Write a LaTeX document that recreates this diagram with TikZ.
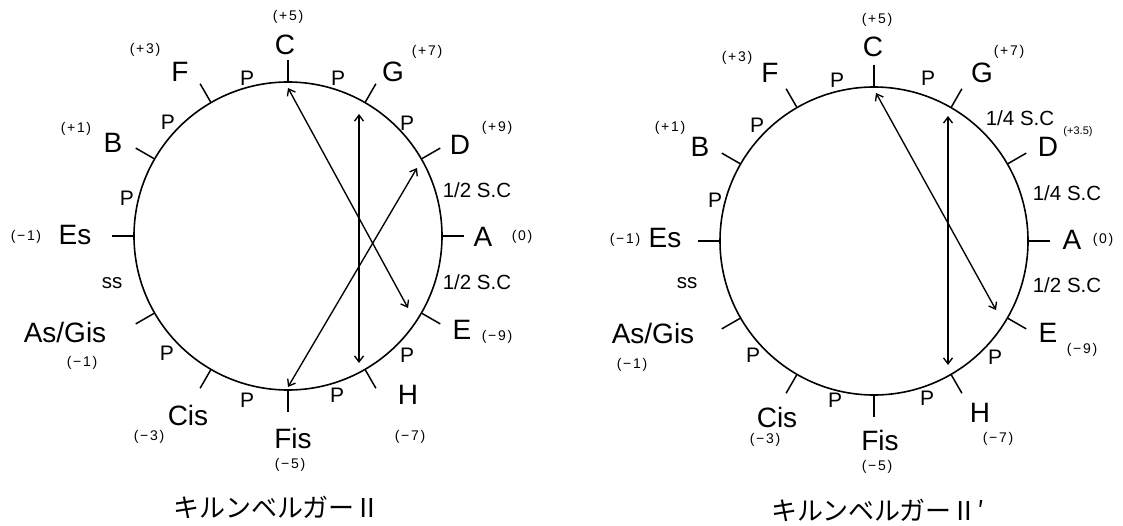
\documentclass[tikz,border=0pt]{standalone}
\usepackage{fontspec}
\setmainfont{Liberation Sans}
\newfontfamily\jp{Noto Sans CJK JP}
\newfontfamily\smf[LetterSpace=12]{Liberation Sans}
\usetikzlibrary{arrows.meta}
\begin{document}
\begin{tikzpicture}[x=1pt,y=-1pt,
  ring/.style={circle, draw, line width=1.6pt, minimum size=308pt, inner sep=0pt},
  tickmark/.style={line width=1.5pt},
  arr/.style={line width=1.35pt, {Straight Barb[length=6pt,width=9pt]}-{Straight Barb[length=6pt,width=9pt]}},
  note/.style={inner sep=0pt, font=\fontsize{28}{30}\selectfont},
  pp/.style={inner sep=0pt, font=\fontsize{21}{23}\selectfont},
  sc/.style={inner sep=0pt, font=\fontsize{20.5}{22}\selectfont},
  num/.style={inner sep=0pt, font=\smf\fontsize{14}{16}\selectfont},
  nums/.style={inner sep=0pt, font=\fontsize{11}{13}\selectfont},
  ttl/.style={inner sep=0pt, font=\jp\fontsize{26}{28}\selectfont}]
\useasboundingbox (0,0) rectangle (1123,526);

% ---------- left circle ----------
\begin{scope}[shift={(288,236)}, y=1pt]
  \node[ring] (L) at (0,0) {};
  \foreach \a in {0,30,...,330} \draw[tickmark] (L.\a) -- ++(\a:21);
  \coordinate (LaC) at (0,148);
  \coordinate (LaE) at (120,-72);
  \coordinate (LaG) at (71,122);
  \coordinate (LaH) at (71,-127);
  \coordinate (LaD) at (129,68);
  \coordinate (LaF) at (0,-151);
\end{scope}
\draw[arr] (LaC) -- (LaE);
\draw[arr] (LaG) -- (LaH);
\draw[arr] (LaD) -- (LaF);

\node[note] (lC) at (285,45) {C};
\node[note] (lG) at (393,72) {G};
\node[note] (lD) at (460,145) {D};
\node[note] (lA) at (483,237) {A};
\node[note] (lE) at (462,330) {E};
\node[note] (lH) at (408,395) {H};
\node[note] (lFis) at (293,438) {Fis};
\node[note] (lCis) at (188,415) {Cis};
\node[note] (lAs) at (65,332) {As/Gis};
\node[note] (lEs) at (75,235) {Es};
\node[note] (lB) at (113,143) {B};
\node[note] (lF) at (180,72) {F};

\node[pp] (lp1) at (247,78) {P};
\node[pp] (lp2) at (338,78) {P};
\node[pp] (lp3) at (407,123) {P};
\node[sc] (ls1) at (477,190) {1/2 S.C};
\node[sc] (ls2) at (477,282) {1/2 S.C};
\node[pp] (lp4) at (407,355) {P};
\node[pp] (lp5) at (337,395) {P};
\node[pp] (lp6) at (247,400) {P};
\node[pp] (lp7) at (167,353) {P};
\node[sc] (lss) at (112,283) {ss};
\node[pp] (lp8) at (127,198) {P};
\node[pp] (lp9) at (168,122) {P};

\node[num] (ln1) at (288,17) {(+5)};
\node[num] (ln2) at (145,50) {(+3)};
\node[num] (ln3) at (427,52) {(+7)};
\node[num] (ln4) at (497,128) {(+9)};
\node[num] (ln5) at (522,237) {(0)};
\node[num] (ln6) at (497,337) {(−9)};
\node[num] (ln7) at (410,437) {(−7)};
\node[num] (ln8) at (290,465) {(−5)};
\node[num] (ln9) at (149,437) {(−3)};
\node[num] (ln10) at (82,363) {(−1)};
\node[num] (ln11) at (26,237) {(−1)};
\node[num] (ln12) at (76,129) {(+1)};

\node[ttl] (lt) at (277,507) {キルンベルガーⅡ};

% ---------- right circle ----------
\begin{scope}[shift={(874,241)}, y=1pt]
  \node[ring] (R) at (0,0) {};
  \foreach \a in {0,30,...,330} \draw[tickmark] (R.\a) -- ++(\a:21);
  \coordinate (RaC) at (2,148);
  \coordinate (RaE) at (122,-69);
  \coordinate (RaG) at (74,125);
  \coordinate (RaH) at (74,-124);
\end{scope}
\draw[arr] (RaC) -- (RaE);
\draw[arr] (RaG) -- (RaH);

\node[note] (rC) at (873,47) {C};
\node[note] (rG) at (982,73) {G};
\node[note] (rD) at (1048,147) {D};
\node[note] (rA) at (1072,240) {A};
\node[note] (rE) at (1048,333) {E};
\node[note] (rH) at (980,413) {H};
\node[note] (rFis) at (880,440) {Fis};
\node[note] (rCis) at (777,417) {Cis};
\node[note] (rAs) at (653,333) {As/Gis};
\node[note] (rEs) at (665,238) {Es};
\node[note] (rB) at (700,147) {B};
\node[note] (rF) at (770,73) {F};

\node[pp] (rp1) at (837,80) {P};
\node[pp] (rp2) at (928,78) {P};
\node[sc] (rs1) at (1020,118) {1/4 S.C};
\node[sc] (rs2) at (1067,193) {1/4 S.C};
\node[sc] (rs3) at (1067,285) {1/2 S.C};
\node[pp] (rp4) at (995,357) {P};
\node[pp] (rp5) at (927,398) {P};
\node[pp] (rp6) at (835,400) {P};
\node[pp] (rp7) at (753,355) {P};
\node[sc] (rss) at (687,283) {ss};
\node[pp] (rp8) at (715,200) {P};
\node[pp] (rp9) at (757,125) {P};

\node[num] (rn1) at (877,20) {(+5)};
\node[num] (rn2) at (737,58) {(+3)};
\node[num] (rn3) at (1009,52) {(+7)};
\node[nums] (rn4) at (1078,132) {(+3.5)};
\node[num] (rn5) at (1103,240) {(0)};
\node[num] (rn6) at (1082,350) {(−9)};
\node[num] (rn7) at (998,439) {(−7)};
\node[num] (rn8) at (877,467) {(−5)};
\node[num] (rn9) at (765,440) {(−3)};
\node[num] (rn10) at (632,365) {(−1)};
\node[num] (rn11) at (625,240) {(−1)};
\node[num] (rn12) at (670,128) {(+1)};

\node[ttl] (rt) at (878,510) {キルンベルガーⅡ′};
\end{tikzpicture}
\end{document}
